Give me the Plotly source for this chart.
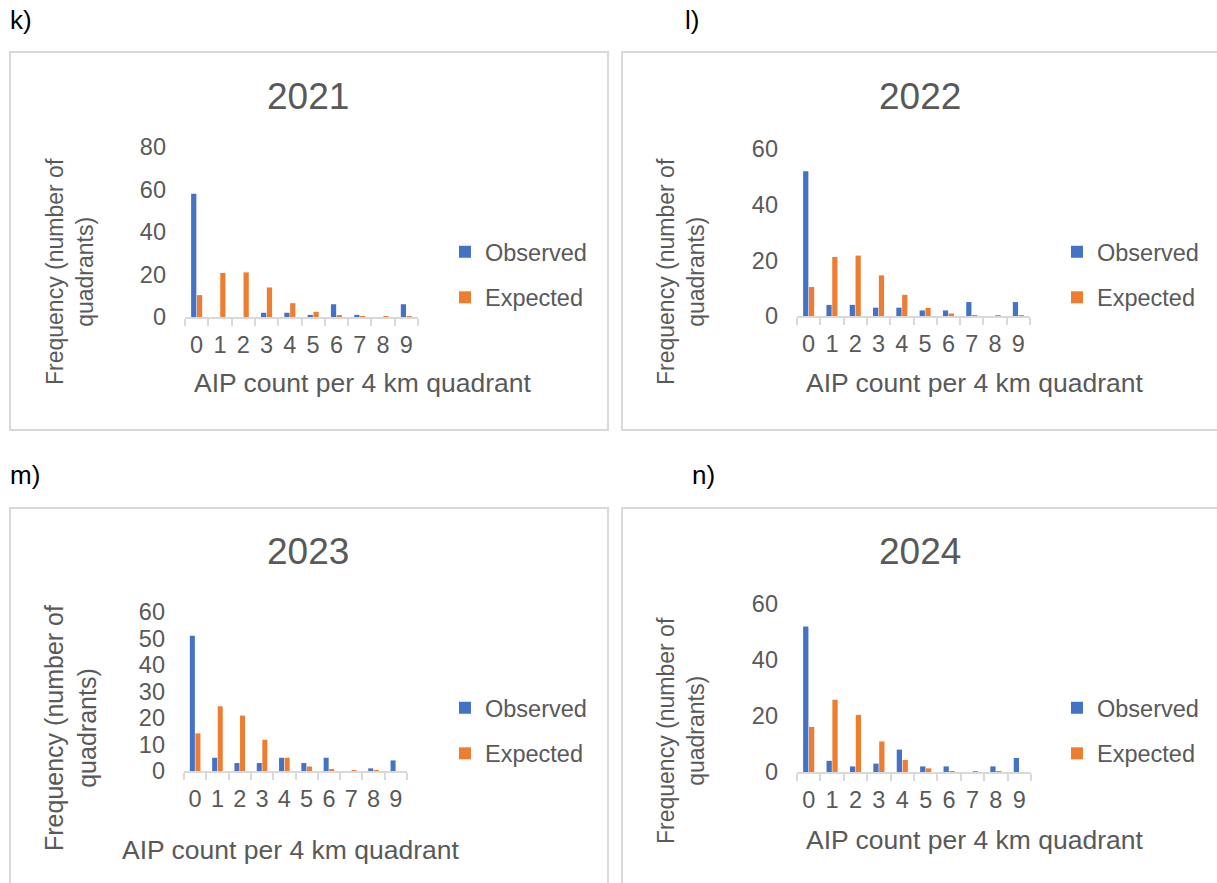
import plotly.graph_objects as go

W, H = 1217, 883

categories = ["0", "1", "2", "3", "4", "5", "6", "7", "8", "9"]
years = ["2021", "2022", "2023", "2024"]
panel_labels = ["k)", "l)", "m)", "n)"]

obs_2021 = [58, 0, 0, 2, 2, 1, 6, 1, 0, 6]
exp_2021 = [10.3, 20.7, 21.0, 13.9, 6.5, 2.4, 0.6, 0.2, 0.05, 0.01]

obs_2022 = [52, 4, 4, 3, 3, 2, 2, 5, 0, 5]
exp_2022 = [10.4, 21.2, 21.7, 14.6, 7.6, 2.9, 0.9, 0.2, 0.05, 0.01]

obs_2023 = [51, 5, 3, 3, 5, 3, 5, 0, 1, 4]
exp_2023 = [14.2, 24.4, 20.9, 11.8, 5.0, 1.7, 0.4, 0.1, 0.02, 0.0]

obs_2024 = [52, 4, 2, 3, 8, 2, 2, 0, 2, 5]
exp_2024 = [16.1, 25.8, 20.4, 10.9, 4.3, 1.3, 0.3, 0.1, 0.02, 0.0]

observed = [obs_2021, obs_2022, obs_2023, obs_2024]
expected = [exp_2021, exp_2022, exp_2023, exp_2024]

y_max = [80, 60, 60, 60]
y_dtick = [20, 20, 10, 20]

BLUE = "#4472C4"
ORANGE = "#ED7D31"
GREY = "#595959"
BORDER = "#D9D9D9"
FONT = "Liberation Sans, Arial, sans-serif"

# layout geometry in pixels (x0, x1, ytop, ybottom) of plot areas
plot_px = [(185, 418, 147, 317), (797, 1030, 149, 316), (184, 407, 612, 771), (797, 1031, 604, 772)]
box_px = [(10, 608, 52, 430), (622, 1230, 52, 430), (10, 608, 508, 900), (622, 1230, 508, 900)]
label_px = [(8, 20), (683, 20), (8, 475), (690, 475)]
title_px = [(308, 97), (920, 97), (308, 551), (920, 551)]
ytitle_px = [(70, 272, 23), (681, 272, 23), (70, 728, 25), (681, 731, 23)]
xtitle_px = [(362, 383), (974, 383), (290, 850), (974, 840)]
legend_px = [(445, 230), (1057, 230), (445, 686), (1057, 686)]


def px_x(x):
    return x / W


def px_y(y):
    return 1 - y / H


fig = go.Figure()
shapes = []
annotations = []

for i in range(4):
    n = i + 1
    xa = "x" if n == 1 else f"x{n}"
    ya = "y" if n == 1 else f"y{n}"
    leg = "legend" if n == 1 else f"legend{n}"
    fig.add_trace(go.Bar(x=categories, y=observed[i], name="Observed", marker_color=BLUE,
                         xaxis=xa, yaxis=ya, legend=leg, legendgroup=f"o{n}",
                         marker_line_width=0))
    fig.add_trace(go.Bar(x=categories, y=expected[i], name="Expected", marker_color=ORANGE,
                         xaxis=xa, yaxis=ya, legend=leg, legendgroup=f"e{n}",
                         marker_line_width=0))

    x0, x1, yt, yb = plot_px[i]
    xkey = "xaxis" if n == 1 else f"xaxis{n}"
    ykey = "yaxis" if n == 1 else f"yaxis{n}"
    fig.update_layout(**{
        xkey: dict(domain=[px_x(x0), px_x(x1)], anchor=ya, type="category",
                   tickmode="array", tickvals=categories, ticktext=categories,
                   tickangle=0,
                   showline=True, linecolor=BORDER, linewidth=2,
                   ticks="outside", tickson="boundaries", ticklen=7, tickcolor=BORDER,
                   tickwidth=2, showgrid=False, zeroline=False, automargin=False,
                   tickfont=dict(size=23.5, color=GREY, family=FONT),
                   ticklabelstandoff=6, fixedrange=True),
        ykey: dict(domain=[px_y(yb), px_y(yt)], anchor=xa, range=[0, y_max[i]],
                   dtick=y_dtick[i], showline=False, showgrid=False, zeroline=False,
                   ticks="", tickfont=dict(size=23.5, color=GREY, family=FONT),
                   ticklabelstandoff=18, fixedrange=True, automargin=False),
        leg: dict(x=px_x(legend_px[i][0]), y=px_y(legend_px[i][1]), xanchor="left",
                  yanchor="top", font=dict(size=23.5, color=GREY, family=FONT),
                  bgcolor="rgba(0,0,0,0)", tracegroupgap=12, traceorder="grouped",
                  itemwidth=30),
    })

    bx0, bx1, byt, byb = box_px[i]
    shapes.append(dict(type="rect", xref="paper", yref="paper",
                       x0=px_x(bx0), x1=px_x(bx1), y0=px_y(byb), y1=px_y(byt),
                       line=dict(color=BORDER, width=2), fillcolor="rgba(0,0,0,0)"))

    lx, ly = label_px[i]
    annotations.append(dict(text=panel_labels[i], x=px_x(lx), y=px_y(ly), xref="paper",
                            yref="paper", xanchor="left", yanchor="middle", showarrow=False,
                            font=dict(size=26, color="black", family=FONT)))
    tx, ty = title_px[i]
    annotations.append(dict(text=years[i], x=px_x(tx), y=px_y(ty), xref="paper",
                            yref="paper", xanchor="center", yanchor="middle", showarrow=False,
                            font=dict(size=37, color=GREY, family=FONT)))
    yx, yy, ys = ytitle_px[i]
    annotations.append(dict(text="Frequency (number of<br>quadrants)", x=px_x(yx), y=px_y(yy),
                            xref="paper", yref="paper", xanchor="center", yanchor="middle",
                            textangle=-90, showarrow=False,
                            font=dict(size=ys, color=GREY, family=FONT)))
    xx, xy = xtitle_px[i]
    annotations.append(dict(text="AIP count per 4 km quadrant", x=px_x(xx), y=px_y(xy),
                            xref="paper", yref="paper", xanchor="center", yanchor="middle",
                            showarrow=False, font=dict(size=26.5, color=GREY, family=FONT)))

fig.update_layout(
    width=W, height=H, margin=dict(l=0, r=0, t=0, b=0, pad=0, autoexpand=False),
    paper_bgcolor="white", plot_bgcolor="white",
    barmode="group", bargap=0.5, bargroupgap=0.1,
    shapes=shapes, annotations=annotations,
    font=dict(family=FONT, color=GREY),
)

post = (
    "document.body.style.margin='0';document.body.style.padding='0';"
    "document.documentElement.style.margin='0';"
    "var d=document.getElementById('{plot_id}');"
    "d.style.position='absolute';d.style.left='0px';d.style.top='0px';"
)

fig.write_html("out.html", post_script=post, config={"displayModeBar": False})
